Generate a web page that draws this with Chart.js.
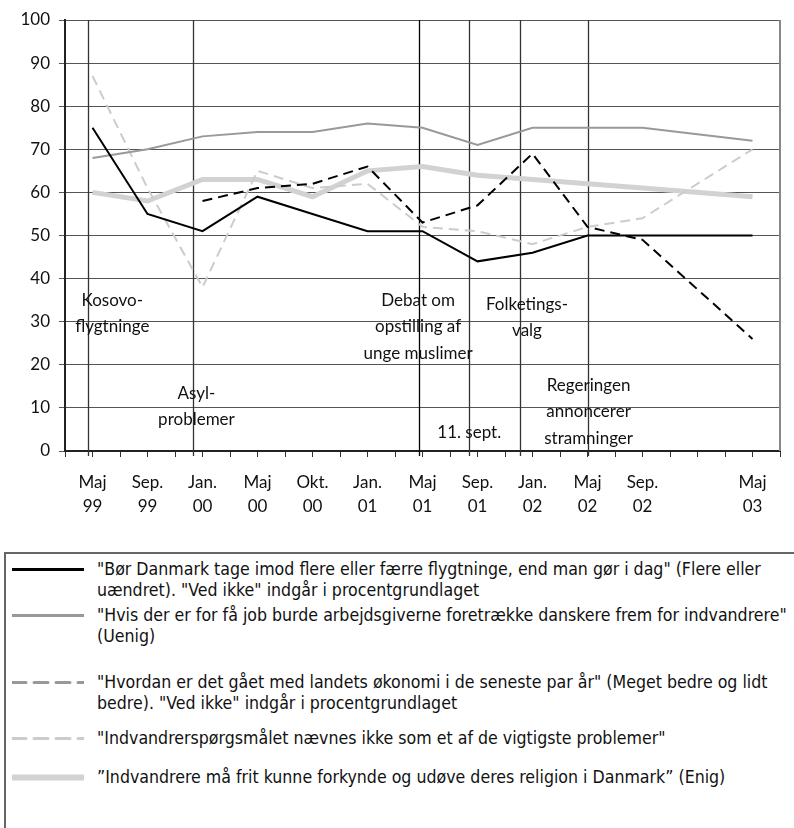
<!DOCTYPE html>
<html>
<head>
<meta charset="utf-8">
<script src="https://cdn.jsdelivr.net/npm/chart.js@4.4.1/dist/chart.umd.min.js"></script>
<style>
  body { margin: 0; background: #fff; }
  #wrap { position: relative; width: 794px; height: 828px; overflow: hidden; }
  #chart { position: absolute; left: 0; top: 0; }
  #legend {
    position: absolute; left: 4px; top: 552px; width: 820px; height: 320px;
    border-top: 2px solid #666; border-left: 2px solid #666;
    font-family: "Liberation Sans Narrow", "DejaVu Sans Condensed", "Roboto Condensed", sans-serif;
    font-stretch: condensed; font-size: 17.6px; color: #111;
  }
  .entry { position: absolute; left: 0; line-height: 21px; }
  .entry svg { position: absolute; left: 6px; top: 0; }
  .entry div { position: absolute; left: 91px; white-space: nowrap; }
</style>
</head>
<body>
<div id="wrap">
<canvas id="chart" width="794" height="545"></canvas>
<div id="legend"></div>
</div>
<script>
// categories (the blank slot keeps the gap between Sep. 02 and Maj 03)
const months = [["Maj", "99"], ["Sep.", "99"], ["Jan.", "00"], ["Maj", "00"], ["Okt.", "00"], ["Jan.", "01"],
                ["Maj", "01"], ["Sep.", "01"], ["Jan.", "02"], ["Maj", "02"], ["Sep.", "02"], ["", ""], ["Maj", "03"]];

const flygtninge = [75, 55, 51, 59, 55, 51, 51, 44, 46, 50, 50, null, 50];
const arbejdsgivere = [68, 70, 73, 74, 74, 76, 75, 71, 75, 75, 75, null, 72];
const oekonomi = [null, null, 58, 61, 62, 66, 53, 57, 69, 52, 49, null, 26];
const problemer = [87, 61, 38, 65, 61, 62, 52, 51, 48, 52, 54, null, 70];
const religion = [60, 58, 63, 63, 59, 65, 66, 64, 63, 62, 61, null, 59];

const legendTexts = [
    ['"Bør Danmark tage imod flere eller færre flygtninge, end man gør i dag" (Flere eller', 'uændret). "Ved ikke" indgår i procentgrundlaget'],
    ['"Hvis der er for få job burde arbejdsgiverne foretrække danskere frem for indvandrere"', '(Uenig)'],
    ['"Hvordan er det gået med landets økonomi i de seneste par år" (Meget bedre og lidt', 'bedre). "Ved ikke" indgår i procentgrundlaget'],
    ['"Indvandrerspørgsmålet nævnes ikke som et af de vigtigste problemer"'],
    ['”Indvandrere må frit kunne forkynde og udøve deres religion i Danmark” (Enig)']
];

// events: position on the category axis, value for the first text line
const eventLines = [-0.09, 1.82, 5.93, 6.84, 7.77, 9.0];
const eventTexts = [
    { x: 0.36, y: 35, lines: ["Kosovo-", "flygtninge"] },
    { x: 1.89, y: 13.4, lines: ["Asyl-", "problemer"] },
    { x: 5.92, y: 35, lines: ["Debat om", "opstilling af", "unge muslimer"] },
    { x: 6.85, y: 4.4, lines: ["11. sept."] },
    { x: 7.9, y: 34, lines: ["Folketings-", "valg"] },
    { x: 9.02, y: 15.3, lines: ["Regeringen", "annoncerer", "stramninger"] }
];

const fontFam = "Lato, 'Open Sans', sans-serif";

function points(values) {
    return values.map((v, i) => ({ x: i, y: v }));
}

const series = [
    { label: legendTexts[0], data: points(flygtninge), borderColor: '#000', borderWidth: 2, borderDash: [], legendColor: '#000' },
    { label: legendTexts[1], data: points(arbejdsgivere), borderColor: '#999', borderWidth: 2, borderDash: [], legendColor: '#999' },
    { label: legendTexts[2], data: points(oekonomi), borderColor: '#000', borderWidth: 2, borderDash: [10, 6], legendColor: '#999' },
    { label: legendTexts[3], data: points(problemer), borderColor: '#ccc', borderWidth: 2, borderDash: [10, 6], legendColor: '#ccc' },
    { label: legendTexts[4], data: points(religion), borderColor: '#d2d2d2', borderWidth: 5, borderDash: [], legendColor: '#d2d2d2' }
];

const events = {
    id: 'events',
    beforeDatasetsDraw(chart) {
        const ctx = chart.ctx, x = chart.scales.x, area = chart.chartArea;
        ctx.save();
        eventLines.forEach((p, i) => {
            ctx.strokeStyle = i === 2 ? '#000' : '#333';
            ctx.lineWidth = 1.3;
            const px = Math.round(x.getPixelForValue(p)) + 0.5;
            ctx.beginPath();
            ctx.moveTo(px, area.top);
            ctx.lineTo(px, area.bottom + 5);
            ctx.stroke();
        });
        // right frame
        ctx.strokeStyle = '#888';
        ctx.lineWidth = 2;
        ctx.beginPath();
        ctx.moveTo(area.right, area.top);
        ctx.lineTo(area.right, area.bottom);
        ctx.stroke();
        ctx.restore();
    },
    afterDatasetsDraw(chart) {
        const ctx = chart.ctx, x = chart.scales.x, y = chart.scales.y;
        ctx.save();
        ctx.font = '17px ' + fontFam;
        ctx.fillStyle = '#111';
        ctx.textAlign = 'center';
        ctx.textBaseline = 'middle';
        eventTexts.forEach(e => {
            const px = x.getPixelForValue(e.x), py = y.getPixelForValue(e.y);
            e.lines.forEach((t, k) => ctx.fillText(t, px, py + k * 26.5));
        });
        ctx.restore();
    }
};

const config = {
    type: 'line',
    data: {
        datasets: series.map(s => ({
            label: s.label.join(' '),
            data: s.data,
            borderColor: s.borderColor,
            borderWidth: s.borderWidth,
            borderDash: s.borderDash,
            pointRadius: 0,
            tension: 0,
            spanGaps: true,
            fill: false
        }))
    },
    options: {
        responsive: false,
        animation: false,
        layout: { padding: { top: 20, right: 8, left: 0, bottom: 0 } },
        plugins: { legend: { display: false }, tooltip: { enabled: false } },
        scales: {
            x: {
                type: 'linear',
                min: -0.5,
                max: 12.5,
                afterFit(scale) { scale.height = 94; },
                afterBuildTicks(scale) {
                    const t = [];
                    for (let v = -0.5; v <= 12.5; v += 0.5) t.push({ value: v });
                    scale.ticks = t;
                },
                ticks: {
                    autoSkip: false,
                    maxRotation: 0,
                    padding: 14,
                    color: '#111',
                    font: { family: fontFam, size: 17, lineHeight: 24 / 17 },
                    callback: v => Number.isInteger(v) ? months[v] : ''
                },
                grid: { drawOnChartArea: false, drawTicks: true, tickLength: 6, color: '#333' },
                border: { color: '#222', width: 2 }
            },
            y: {
                min: 0,
                max: 100,
                afterFit(scale) { scale.width = 65; },
                ticks: { stepSize: 10, padding: 9, color: '#111', font: { family: fontFam, size: 17 } },
                grid: { color: '#555', lineWidth: 1, tickLength: 6 },
                border: { color: '#222', width: 2 }
            }
        }
    },
    plugins: [events]
};

const lineChart = new Chart(document.getElementById('chart'), config);

// legend box under the chart
const legendTops = [5, 51, 118, 174, 213];
const legendBox = document.getElementById('legend');
series.forEach((s, i) => {
    const e = document.createElement('div');
    e.className = 'entry';
    e.style.top = legendTops[i] + 'px';
    const dash = s.borderDash.length ? 'stroke-dasharray="14 8"' : '';
    e.innerHTML = '<svg width="72" height="21"><line x1="0" y1="10.5" x2="72" y2="10.5" stroke="' + s.legendColor +
        '" stroke-width="' + (s.borderWidth + 1) + '" stroke-linecap="round" ' + dash + '/></svg>' +
        '<div>' + s.label.join('<br>') + '</div>';
    legendBox.appendChild(e);
});
</script>
</body>
</html>
